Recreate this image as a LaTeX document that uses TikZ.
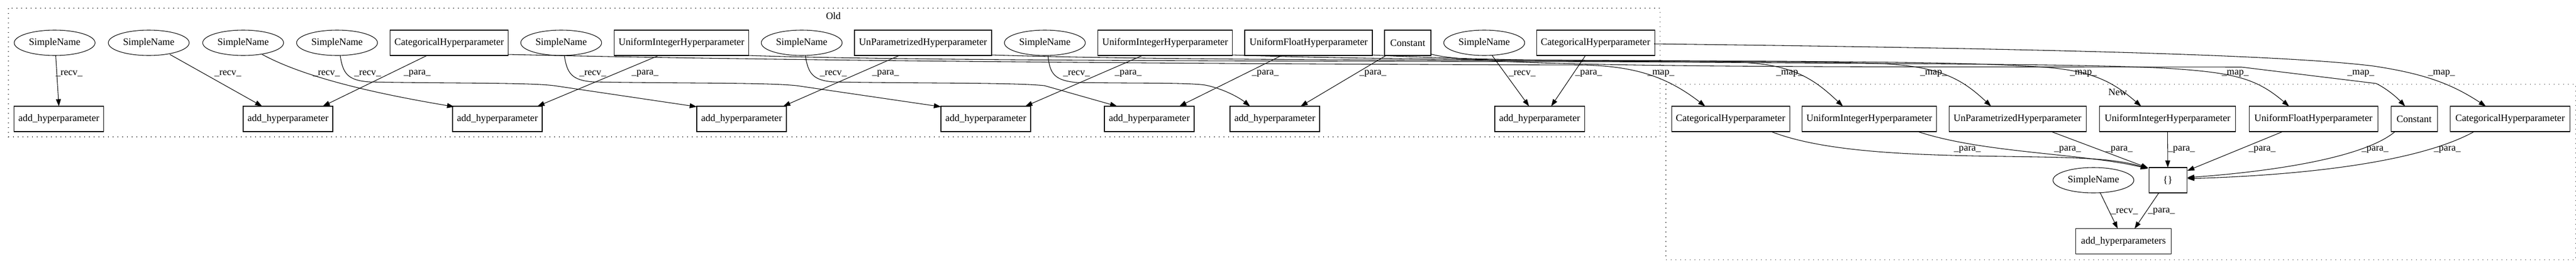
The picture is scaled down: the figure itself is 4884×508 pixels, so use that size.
\documentclass[tikz,border=0pt]{standalone}
\usepackage{fontspec}
\setmainfont{Liberation Serif}
\usetikzlibrary{shapes.geometric,arrows.meta}
\begin{document}
\begin{tikzpicture}[x=0.75pt,y=-0.75pt,
  font=\fontsize{14}{16}\selectfont,
  bx/.style={draw, rectangle, minimum height=36pt, inner sep=0pt, line width=0.8pt},
  el/.style={draw, ellipse, minimum width=115pt, minimum height=36pt, inner sep=0pt, line width=0.8pt},
  edge/.style={draw, line width=0.8pt, -{Triangle[length=10pt,width=7pt]}},
  lbl/.style={inner sep=0pt},
  clus/.style={draw, line width=0.8pt, dash pattern=on 1pt off 5.75pt}]
\useasboundingbox[fill=white] (0,0) rectangle (4884,508);
% clusters
\draw[clus] (16,15.7) rectangle (3147,259);
\draw[clus] (3158,159.3) rectangle (4883,491.7);
\node[lbl] (OldT) at (1580,30) {Old};
\node[lbl] (NewT) at (4015,174) {New};
% Old top row
\node[el] (SN1) at (103.6,81) {SimpleName};
\node[el] (SN2) at (282,81) {SimpleName};
\node[el] (SN3) at (461,81) {SimpleName};
\node[el] (SN4) at (639,81) {SimpleName};
\node[bx, minimum width=168pt] (CatHP1) at (851.6,81) {CategoricalHyperparameter};
\node[el] (SN5) at (1064,81) {SimpleName};
\node[bx, minimum width=191pt] (UIH1) at (1292,81) {UniformIntegerHyperparameter};
\node[el] (SN6) at (1520,81) {SimpleName};
\node[bx, minimum width=195pt] (UPH1) at (1750,81) {UnParametrizedHyperparameter};
\node[el] (SN7) at (1981,81) {SimpleName};
\node[bx, minimum width=191pt] (UIH2) at (2209,81) {UniformIntegerHyperparameter};
\node[bx, minimum width=181.5pt] (UFH1) at (2481,81) {UniformFloatHyperparameter};
\node[bx, minimum width=66pt] (Const1) at (2669,81) {Constant};
\node[el] (SN8) at (2814,81) {SimpleName};
\node[bx, minimum width=168pt] (CatHP2) at (3025,81) {CategoricalHyperparameter};
% Old bottom row
\node[bx, minimum width=127.5pt] (AH1) at (111.6,225) {add\_hyperparameter};
\node[bx, minimum width=127.5pt] (AH2) at (546,225) {add\_hyperparameter};
\node[bx, minimum width=127.5pt] (AH3) at (943,225) {add\_hyperparameter};
\node[bx, minimum width=127.5pt] (AH4) at (1406,225) {add\_hyperparameter};
\node[bx, minimum width=127.5pt] (AH5) at (1869,225) {add\_hyperparameter};
\node[bx, minimum width=127.5pt] (AH6) at (2179,225) {add\_hyperparameter};
\node[bx, minimum width=127.5pt] (AH7) at (2417,225) {add\_hyperparameter};
\node[bx, minimum width=127.5pt] (AH8) at (2919,225) {add\_hyperparameter};
% New
\node[bx, minimum width=168pt] (NCat) at (3281,225) {CategoricalHyperparameter};
\node[bx, minimum width=191pt] (NUIH) at (3544,225) {UniformIntegerHyperparameter};
\node[bx, minimum width=195pt] (NUPH) at (3825,225) {UnParametrizedHyperparameter};
\node[bx, minimum width=193pt] (NUIH2) at (4109.5,225) {UniformIntegerHyperparameter};
\node[bx, minimum width=183pt] (NUFH) at (4386,225) {UniformFloatHyperparameter};
\node[bx, minimum width=66pt] (NConst) at (4577,225) {Constant};
\node[bx, minimum width=170pt] (NCat2) at (4759,225) {CategoricalHyperparameter};
\node[bx, minimum width=54pt] (Brace) at (4110,341) {\{\}};
\node[el] (NSN) at (3969,341) {SimpleName};
\node[bx, minimum width=136pt] (AHS) at (4026,456.7) {add\_hyperparameters};
% Old recv edges
\draw[edge] ([shift={(2,24)}]SN1.center) -- ([shift={(0,-24)}]AH1.center);
\draw[edge] ([shift={(40,22)}]SN2.center) -- ([shift={(-49,-24)}]AH2.center);
\draw[edge] ([shift={(36,22)}]SN3.center) .. controls (575,145) and (700,175) .. ([shift={(-82,-23)}]AH3.center);
\draw[edge] ([shift={(6,24)}]SN4.center) .. controls (650,140) and (660,152) .. (700,155) .. controls (850,158) and (1000,156) .. (1050,162) -- ([shift={(-85,-23)}]AH4.center);
\draw[edge] ([shift={(6,24)}]SN5.center) .. controls (1075,140) and (1085,152) .. (1125,155) .. controls (1300,158) and (1450,156) .. (1510,162) -- ([shift={(-85,-23)}]AH5.center);
\draw[edge] ([shift={(7,24)}]SN6.center) .. controls (1532,140) and (1542,152) .. (1580,155) .. controls (1750,158) and (1920,156) .. (1980,162) -- ([shift={(-61,-24)}]AH6.center);
\draw[edge] ([shift={(6,24)}]SN7.center) .. controls (1990,140) and (2000,152) .. (2040,156) .. controls (2150,158) and (2250,156) .. (2285,161) .. controls (2320,168) and (2350,185) .. ([shift={(-47,-24)}]AH7.center);
\draw[edge] ([shift={(15,24)}]SN8.center) -- ([shift={(-20,-24)}]AH8.center);
% Old para edges
\draw[edge] ([shift={(-42,24)}]CatHP1.center) -- ([shift={(66,-24)}]AH2.center);
\draw[edge] ([shift={(-43,24)}]UIH1.center) -- ([shift={(76,-24)}]AH3.center);
\draw[edge] ([shift={(-45,24)}]UPH1.center) -- ([shift={(79,-24)}]AH4.center);
\draw[edge] ([shift={(-43,24)}]UIH2.center) -- ([shift={(75,-24)}]AH5.center);
\draw[edge] ([shift={(-51,24)}]UFH1.center) -- ([shift={(57,-24)}]AH6.center);
\draw[edge] ([shift={(-41,24)}]Const1.center) -- ([shift={(49,-24)}]AH7.center);
\draw[edge] ([shift={(-19,24)}]CatHP2.center) -- ([shift={(22,-24)}]AH8.center);
% map edges
\draw[edge] ([shift={(111,22)}]CatHP1.center) .. controls (1600,118) and (2600,122) .. (3000,123) .. controls (3100,125) and (3160,145) .. ([shift={(-48,-24)}]NCat.center);
\draw[edge] ([shift={(127,24)}]UIH1.center) .. controls (1800,118) and (2900,115) .. (3300,118) .. controls (3400,122) and (3440,150) .. ([shift={(-50,-24)}]NUIH.center);
\draw[edge] ([shift={(130,23)}]UPH1.center) .. controls (2300,118) and (3300,112) .. (3560,120) .. controls (3680,125) and (3720,150) .. ([shift={(-50,-24)}]NUPH.center);
\draw[edge] ([shift={(127,23)}]UIH2.center) .. controls (2800,120) and (3600,110) .. (3840,125) .. controls (3960,130) and (4000,150) .. ([shift={(-50,-24)}]NUIH2.center);
\draw[edge] ([shift={(120,23)}]UFH1.center) .. controls (3000,125) and (3900,115) .. (4120,130) .. controls (4240,138) and (4280,150) .. ([shift={(-46,-24)}]NUFH.center);
\draw[edge] ([shift={(43,21)}]Const1.center) .. controls (2800,130) and (3500,126) .. (4250,127) -- (4505,158) .. controls (4520,165) and (4540,180) .. ([shift={(-17,-24)}]NConst.center);
\draw[edge] ([shift={(111,2)}]CatHP2.center) .. controls (3700,90) and (4300,100) .. (4500,125) .. controls (4600,140) and (4650,160) .. ([shift={(-46,-24)}]NCat2.center);
% New edges
\draw[edge] ([shift={(77,24)}]NCat.center) .. controls (3450,285) and (3600,292) .. (3740,295) .. controls (3900,298) and (4000,296) .. ([shift={(-38,-22)}]Brace.center);
\draw[edge] ([shift={(92,24)}]NUIH.center) .. controls (3760,290) and (3950,290) .. ([shift={(-38,-22)}]Brace.center);
\draw[edge] ([shift={(64,24)}]NUPH.center) -- ([shift={(-37,-23)}]Brace.center);
\draw[edge] ([shift={(0,24)}]NUIH2.center) -- ([shift={(0,-24)}]Brace.center);
\draw[edge] ([shift={(-58,24)}]NUFH.center) -- ([shift={(37,-18)}]Brace.center);
\draw[edge] ([shift={(-36,24)}]NConst.center) .. controls (4480,300) and (4300,325) .. ([shift={(37,-5)}]Brace.center);
\draw[edge] ([shift={(-68,24)}]NCat2.center) .. controls (4580,310) and (4350,332) .. ([shift={(37,-3)}]Brace.center);
\draw[edge] ([shift={(13,24)}]NSN.center) -- ([shift={(-11,-24)}]AHS.center);
\draw[edge] ([shift={(-17,24)}]Brace.center) -- ([shift={(21,-24)}]AHS.center);
% labels
\node[lbl] (l1) at (131,139) {\_recv\_};
\node[lbl] (l2) at (432,139) {\_recv\_};
\node[lbl] (l3) at (619,139) {\_recv\_};
\node[lbl] (l4) at (697,139) {\_recv\_};
\node[lbl] (l5) at (1124,139) {\_recv\_};
\node[lbl] (l6) at (1580,139) {\_recv\_};
\node[lbl] (l7) at (2041,139) {\_recv\_};
\node[lbl] (l8) at (2886,139) {\_recv\_};
\node[lbl] (p1) at (791,139) {\_para\_};
\node[lbl] (p2) at (1223,139) {\_para\_};
\node[lbl] (p3) at (1679,139) {\_para\_};
\node[lbl] (p4) at (2139,139) {\_para\_};
\node[lbl] (p5) at (2399,139) {\_para\_};
\node[lbl] (p6) at (2603,139) {\_para\_};
\node[lbl] (p7) at (3012,139) {\_para\_};
\node[lbl] (m1) at (3149,139) {\_map\_};
\node[lbl] (m2) at (3393,139) {\_map\_};
\node[lbl] (m3) at (3666,139) {\_map\_};
\node[lbl] (m4) at (3950,139) {\_map\_};
\node[lbl] (m5) at (4238,139) {\_map\_};
\node[lbl] (m6) at (4476,139) {\_map\_};
\node[lbl] (m7) at (4629,139) {\_map\_};
\node[lbl] (n1) at (3730,283) {\_para\_};
\node[lbl] (n2) at (3920,283) {\_para\_};
\node[lbl] (n3) at (4018,283) {\_para\_};
\node[lbl] (n4) at (4136,283) {\_para\_};
\node[lbl] (n5) at (4289,283) {\_para\_};
\node[lbl] (n6) at (4503,283) {\_para\_};
\node[lbl] (n7) at (4640,283) {\_para\_};
\node[lbl] (n8) at (4028,400) {\_recv\_};
\node[lbl] (n9) at (4098,400) {\_para\_};
\end{tikzpicture}
\end{document}
